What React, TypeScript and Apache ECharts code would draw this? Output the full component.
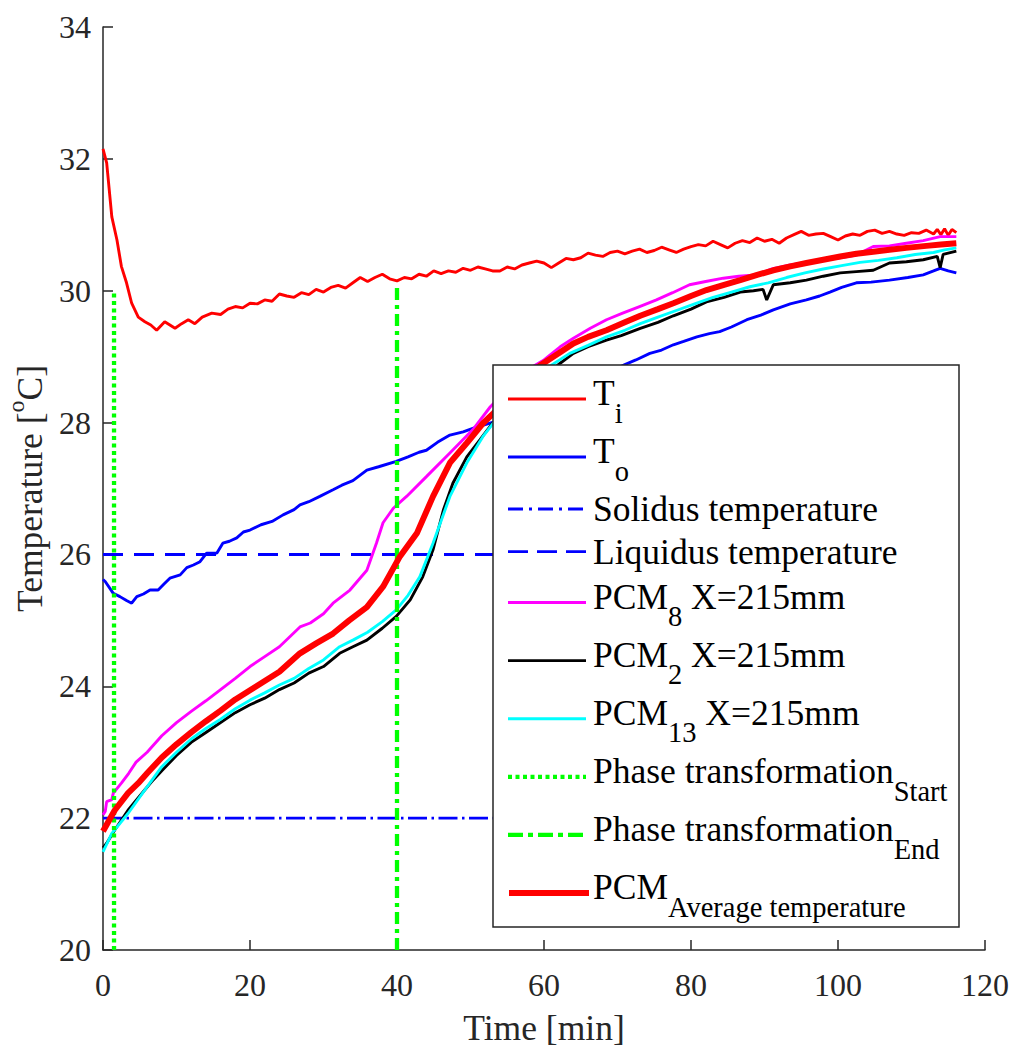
import React, { useEffect, useRef } from 'react';
import * as echarts from 'echarts';

const X_MIN = 0;
const X_MAX = 120;
const X_STEP = 20;
const Y_MIN = 20;
const Y_MAX = 34;
const Y_STEP = 2;

// T_i (inlet)
const tiTime = [0, 0.5, 1.2, 1.9, 2.5, 3.2, 3.9, 4.8, 5.7, 6.5, 7.3, 8.4, 9.1, 9.8, 10.7, 11.6, 12.5, 13.5, 14.8, 16, 17, 18, 19, 20, 21, 22, 23, 24, 25, 26, 27, 28, 29, 30, 31, 32, 33, 34, 35, 36, 37, 38, 39, 40, 41, 42, 43, 44, 45, 46, 47, 48, 49, 50, 51, 52, 53, 54, 55, 56, 57, 58, 59, 60, 61, 62, 63, 64, 65, 66, 67, 68, 69, 70, 71, 72, 73, 74, 75, 76, 77, 78, 79, 80, 81, 82, 83, 84, 85, 86, 87, 88, 89, 90, 91, 92, 93, 94, 95, 96, 97, 98, 99, 100, 101, 102, 103, 104, 105, 106, 107, 108, 109, 110, 111, 112, 113, 113.5, 114, 114.5, 115, 115.5, 116.1];
const tiValue = [32.15, 31.94, 31.12, 30.77, 30.37, 30.12, 29.81, 29.6, 29.53, 29.48, 29.4, 29.53, 29.48, 29.43, 29.5, 29.56, 29.5, 29.6, 29.66, 29.64, 29.72, 29.76, 29.74, 29.81, 29.8, 29.86, 29.84, 29.95, 29.92, 29.9, 29.97, 29.94, 30.02, 29.98, 30.05, 30.08, 30.04, 30.12, 30.2, 30.14, 30.2, 30.25, 30.18, 30.15, 30.2, 30.18, 30.25, 30.22, 30.3, 30.26, 30.3, 30.28, 30.34, 30.31, 30.36, 30.33, 30.3, 30.3, 30.36, 30.33, 30.39, 30.42, 30.45, 30.42, 30.35, 30.42, 30.49, 30.47, 30.5, 30.57, 30.54, 30.52, 30.58, 30.6, 30.56, 30.6, 30.63, 30.58, 30.61, 30.66, 30.62, 30.58, 30.63, 30.67, 30.7, 30.68, 30.75, 30.7, 30.65, 30.72, 30.76, 30.73, 30.8, 30.75, 30.78, 30.72, 30.8, 30.85, 30.9, 30.84, 30.86, 30.87, 30.82, 30.77, 30.83, 30.86, 30.84, 30.9, 30.92, 30.87, 30.9, 30.86, 30.84, 30.88, 30.87, 30.92, 30.86, 30.93, 30.85, 30.94, 30.84, 30.93, 30.88];

// T_o (outlet)
const toTime = [0, 0.3, 1.4, 2.3, 3.2, 3.9, 4.6, 5.5, 6.4, 7.5, 8.3, 9.1, 10.5, 11.4, 12.3, 13.2, 14.1, 15.5, 16.3, 17.2, 18.2, 19.1, 20, 21.5, 23, 24.5, 26, 26.8, 28, 29.5, 31.3, 32.5, 34, 35.9, 37.5, 39.9, 41.5, 43, 44, 45.5, 47.2, 49, 50.5, 52, 53.5, 56, 59, 62, 65, 68, 71, 72.5, 74.4, 76, 77.6, 79, 80.8, 82.5, 83.9, 85.5, 87.6, 89.5, 91.2, 93.5, 95.7, 97.5, 98.9, 100.5, 102.5, 104.5, 107, 109.5, 111.6, 113, 113.9, 115, 116.1];
const toValue = [25.62, 25.59, 25.41, 25.36, 25.3, 25.26, 25.36, 25.4, 25.46, 25.46, 25.55, 25.64, 25.69, 25.8, 25.84, 25.89, 26.02, 26.02, 26.17, 26.2, 26.25, 26.34, 26.37, 26.45, 26.5, 26.6, 26.68, 26.75, 26.8, 26.88, 26.98, 27.05, 27.12, 27.28, 27.33, 27.41, 27.48, 27.55, 27.58, 27.7, 27.81, 27.86, 27.92, 27.97, 28.02, 28.1, 28.25, 28.4, 28.55, 28.72, 28.88, 28.95, 29.05, 29.1, 29.18, 29.23, 29.3, 29.35, 29.38, 29.45, 29.56, 29.63, 29.71, 29.8, 29.86, 29.92, 29.98, 30.05, 30.12, 30.13, 30.16, 30.2, 30.24, 30.3, 30.34, 30.3, 30.27];

// Reference temperatures
const solidusTime = [0, 116];
const solidusValue = [22, 22];
const liquidusTime = [0, 116];
const liquidusValue = [26, 26];

// PCM8
const pcm8Time = [0, 0.3, 0.5, 1.2, 1.4, 2.5, 3.5, 4.5, 6, 8, 10, 12, 14, 16, 18, 20, 22, 24, 26.8, 28.2, 30, 31.3, 33.6, 35.9, 37.2, 38.1, 39.5, 41.3, 44, 47.2, 50.3, 52.7, 55, 58.5, 60, 62.2, 64, 66.3, 68.5, 70.7, 73, 75.3, 77.5, 79.8, 82, 84.4, 86.5, 88.9, 91, 93.5, 95.7, 98, 100.3, 102.5, 104.8, 107, 109.3, 111.6, 113.9, 116.1];
const pcm8Value = [22.05, 22.1, 22.25, 22.28, 22.38, 22.53, 22.68, 22.85, 23.0, 23.25, 23.45, 23.62, 23.78, 23.95, 24.12, 24.3, 24.45, 24.6, 24.9, 24.96, 25.1, 25.26, 25.46, 25.76, 26.17, 26.48, 26.7, 26.88, 27.18, 27.54, 27.89, 28.24, 28.5, 28.85, 28.95, 29.15, 29.28, 29.43, 29.56, 29.66, 29.76, 29.86, 29.97, 30.09, 30.14, 30.19, 30.22, 30.24, 30.33, 30.39, 30.43, 30.47, 30.5, 30.54, 30.67, 30.68, 30.72, 30.76, 30.82, 30.82];

// PCM2
const pcm2Time = [0, 0.5, 1.6, 3.4, 5.7, 6.6, 8, 10, 12, 14, 16, 18, 20, 22, 24, 26, 28, 30, 32.2, 34, 35.9, 38, 39.9, 41.8, 43.5, 44.9, 46.3, 47.6, 49.5, 51.3, 53, 55, 57.5, 60, 62.2, 64, 66, 68.5, 70.5, 73.1, 75.5, 77.6, 80, 82.1, 84.5, 86.7, 88.5, 89.8, 90.3, 91.2, 93.5, 95.7, 98, 100.3, 102.5, 104.8, 107, 109.3, 111.6, 113.5, 113.9, 114.3, 116.1];
const pcm2Value = [21.55, 21.62, 21.82, 22.12, 22.43, 22.55, 22.72, 22.95, 23.15, 23.3, 23.45, 23.6, 23.72, 23.82, 23.95, 24.05, 24.2, 24.3, 24.5, 24.6, 24.7, 24.88, 25.06, 25.31, 25.66, 26.07, 26.67, 27.08, 27.48, 27.74, 27.99, 28.2, 28.45, 28.7, 28.9, 29.05, 29.15, 29.25, 29.32, 29.43, 29.52, 29.62, 29.72, 29.83, 29.9, 29.98, 30.0, 30.02, 29.86, 30.09, 30.12, 30.16, 30.22, 30.27, 30.29, 30.31, 30.42, 30.44, 30.47, 30.52, 30.35, 30.55, 30.6];

// PCM13
const pcm13Time = [0, 1.2, 3.4, 5.7, 8, 10, 12, 14, 16, 18, 20, 22, 24, 26, 28, 30, 32.2, 34, 36, 38, 39.9, 41.5, 43.1, 44.9, 47.2, 49.5, 51.7, 53.5, 56, 58.5, 61, 63.5, 66, 68.5, 71, 73.1, 75.5, 78, 80.5, 83, 85.5, 88, 90.5, 93, 95.5, 98, 100.5, 103, 105.5, 108, 110.5, 113, 114.5, 116.1];
const pcm13Value = [21.49, 21.77, 22.07, 22.43, 22.78, 23.0, 23.2, 23.36, 23.5, 23.66, 23.79, 23.9, 24.02, 24.12, 24.27, 24.4, 24.6, 24.7, 24.82, 24.98, 25.16, 25.38, 25.66, 26.17, 26.88, 27.39, 27.79, 28.05, 28.35, 28.62, 28.87, 29.05, 29.17, 29.3, 29.4, 29.5, 29.6, 29.7, 29.8, 29.9, 29.98, 30.06, 30.12, 30.2, 30.27, 30.33, 30.38, 30.43, 30.46, 30.5, 30.55, 30.58, 30.62, 30.65];

// Phase transformation markers
const startTime = [1.5, 1.5];
const startValue = [20, 30];
const endTime = [40, 40];
const endValue = [20, 30.05];

// PCM average
const avgTime = [0, 1.6, 3.4, 4.8, 6, 8, 10, 12, 14, 16, 18, 20, 22, 24, 26.8, 29, 31.3, 33.5, 35.9, 38.1, 40.4, 42.7, 44.9, 47.2, 49.5, 51.7, 53.1, 55, 57, 59.5, 62, 64, 66, 68.5, 71, 73.1, 75.5, 77.6, 80, 82.1, 84.5, 86.7, 89, 91.2, 93.5, 95.7, 98, 100.3, 102.5, 104.8, 107, 109.3, 112, 114, 116.1];
const avgValue = [21.8, 22.12, 22.38, 22.53, 22.68, 22.92, 23.12, 23.3, 23.47, 23.63, 23.8, 23.94, 24.08, 24.22, 24.5, 24.65, 24.8, 25.0, 25.2, 25.51, 25.97, 26.32, 26.88, 27.39, 27.69, 27.99, 28.14, 28.35, 28.6, 28.87, 29.05, 29.2, 29.3, 29.4, 29.52, 29.62, 29.72, 29.81, 29.92, 30.01, 30.09, 30.16, 30.24, 30.31, 30.37, 30.42, 30.47, 30.52, 30.56, 30.59, 30.62, 30.65, 30.68, 30.7, 30.72];

const FONT = '"Liberation Serif", "Times New Roman", serif';
const AXIS_COLOR = '#262626';
const TEXT_COLOR = '#000000';

const zip = (t: number[], v: number[]) => t.map((x, i) => [x, v[i]]);

type Def = {
  main: string;
  sub: string;
  tail: string;
  t: number[];
  v: number[];
  color: string;
  width: number;
  dash: number[] | 'solid';
  iconDash: number[] | null;
};

const THIN = 2.9;

const defs: Def[] = [
  { main: 'T', sub: 'i', tail: '', t: tiTime, v: tiValue, color: '#ff0000', width: THIN, dash: 'solid', iconDash: null },
  { main: 'T', sub: 'o', tail: '', t: toTime, v: toValue, color: '#0000ff', width: THIN, dash: 'solid', iconDash: null },
  { main: 'Solidus temperature', sub: '', tail: '', t: solidusTime, v: solidusValue, color: '#0000ff', width: THIN, dash: [19, 4.5, 2.5, 4.5], iconDash: [15, 6, 3, 6] },
  { main: 'Liquidus temperature', sub: '', tail: '', t: liquidusTime, v: liquidusValue, color: '#0000ff', width: THIN, dash: [20, 11], iconDash: [20, 9] },
  { main: 'PCM', sub: '8', tail: ' X=215mm', t: pcm8Time, v: pcm8Value, color: '#ff00ff', width: THIN, dash: 'solid', iconDash: null },
  { main: 'PCM', sub: '2', tail: ' X=215mm', t: pcm2Time, v: pcm2Value, color: '#000000', width: THIN, dash: 'solid', iconDash: null },
  { main: 'PCM', sub: '13', tail: ' X=215mm', t: pcm13Time, v: pcm13Value, color: '#00ffff', width: THIN, dash: 'solid', iconDash: null },
  { main: 'Phase transformation', sub: 'Start', tail: '', t: startTime, v: startValue, color: '#00ff00', width: 4.3, dash: [4, 3.5], iconDash: [4, 3.5] },
  { main: 'Phase transformation', sub: 'End', tail: '', t: endTime, v: endValue, color: '#00ff00', width: 4.3, dash: [12, 5, 4, 5], iconDash: [15, 5, 5, 5] },
  { main: 'PCM', sub: 'Average temperature', tail: '', t: avgTime, v: avgValue, color: '#ff0000', width: 6, dash: 'solid', iconDash: null },
];

// legend layout (pixels)
const LEG_BOX = { x: 493, y: 365, w: 466, h: 562 };
const LEG_ICON_Y = [399, 457, 509, 551.6, 602.5, 660.6, 718.7, 776.8, 834.9, 893];
const LEG_ICON_X0 = 508;
const LEG_ICON_X1 = 586;
const LEG_TEXT_X = 593;
const MAIN_FS = 35.5;
const SUB_FS = 28.5;
const NAME_FS = 35.5;
const TICK_FS = 32;

function buildLegend() {
  const els: any[] = [];
  els.push({
    type: 'rect',
    z: 100,
    shape: { x: LEG_BOX.x, y: LEG_BOX.y, width: LEG_BOX.w, height: LEG_BOX.h },
    style: { fill: '#ffffff', stroke: AXIS_COLOR, lineWidth: 1.5 },
  });
  defs.forEach((d, i) => {
    const y = LEG_ICON_Y[i];
    const isAvg = i === defs.length - 1;
    els.push({
      type: 'line',
      z: 101,
      shape: { x1: LEG_ICON_X0 + (isAvg ? 1 : 0), y1: y, x2: LEG_ICON_X1 + (isAvg ? 3 : 0), y2: y },
      style: {
        stroke: d.color,
        lineWidth: d.width,
        lineDash: d.iconDash || undefined,
      },
    });
    const capCenter = d.sub ? y - 6 : y;
    let text = `{m|${d.main}}`;
    if (d.sub) text += `{s|${d.sub}}`;
    if (d.tail) text += `{m|${d.tail}}`;
    els.push({
      type: 'text',
      z: 101,
      x: LEG_TEXT_X,
      y: capCenter - MAIN_FS / 2,
      style: {
        text,
        align: 'left',
        verticalAlign: 'top',
        rich: {
          m: { fontSize: MAIN_FS, fontFamily: FONT, fill: TEXT_COLOR, verticalAlign: 'top' },
          s: { fontSize: SUB_FS, fontFamily: FONT, fill: TEXT_COLOR, verticalAlign: 'top', padding: [23.5, 0, 0, 0] },
        },
      },
    });
  });
  return els;
}

export default function App() {
  const ref = useRef<HTMLDivElement>(null);
  useEffect(() => {
    if (!ref.current) return;
    const chart = echarts.init(ref.current, undefined, { renderer: 'svg' });
    const option: any = {
      animation: false,
      backgroundColor: '#ffffff',
      grid: { left: 103, right: 28, top: 27, bottom: 101, outerBoundsMode: 'none' },
      xAxis: {
        type: 'value',
        min: X_MIN,
        max: X_MAX,
        interval: X_STEP,
        name: 'Time [min]',
        nameLocation: 'middle',
        nameGap: 60,
        nameTextStyle: { fontFamily: FONT, fontSize: NAME_FS, color: AXIS_COLOR },
        axisLine: { show: true, onZero: false, lineStyle: { color: AXIS_COLOR, width: 1.5 } },
        axisTick: { show: true, inside: true, length: 10, lineStyle: { color: AXIS_COLOR, width: 1.5 } },
        axisLabel: { fontFamily: FONT, fontSize: TICK_FS, color: AXIS_COLOR, margin: 19 },
        splitLine: { show: false },
      },
      yAxis: {
        type: 'value',
        min: Y_MIN,
        max: Y_MAX,
        interval: Y_STEP,
        name: '{a|Temperature [}{sup|o}{a|C]}',
        nameLocation: 'middle',
        nameRotate: 90,
        nameGap: 50,
        nameTextStyle: {
          fontFamily: FONT,
          fontSize: NAME_FS,
          color: AXIS_COLOR,
          rich: {
            a: { fontFamily: FONT, fontSize: NAME_FS, color: AXIS_COLOR, lineHeight: 44, verticalAlign: 'bottom' },
            sup: { fontFamily: FONT, fontSize: 24, color: AXIS_COLOR, lineHeight: 24, verticalAlign: 'top' },
          },
        },
        axisLine: { show: true, onZero: false, lineStyle: { color: AXIS_COLOR, width: 1.5 } },
        axisTick: { show: true, inside: true, length: 10, lineStyle: { color: AXIS_COLOR, width: 1.5 } },
        axisLabel: { fontFamily: FONT, fontSize: TICK_FS, color: AXIS_COLOR, margin: 12 },
        splitLine: { show: false },
      },
      series: defs.map((d) => ({
        name: d.main + d.sub + d.tail,
        type: 'line',
        data: zip(d.t, d.v),
        showSymbol: false,
        symbol: 'none',
        smooth: false,
        lineStyle: { color: d.color, width: d.width, type: d.dash },
        itemStyle: { color: d.color },
        emphasis: { disabled: true },
        silent: true,
      })),
      graphic: buildLegend(),
    };
    chart.setOption(option);
    return () => chart.dispose();
  }, []);
  return (
    <div
      ref={ref}
      style={{ position: 'fixed', left: 0, top: 0, width: 1013, height: 1051, background: '#fff' }}
    />
  );
}
